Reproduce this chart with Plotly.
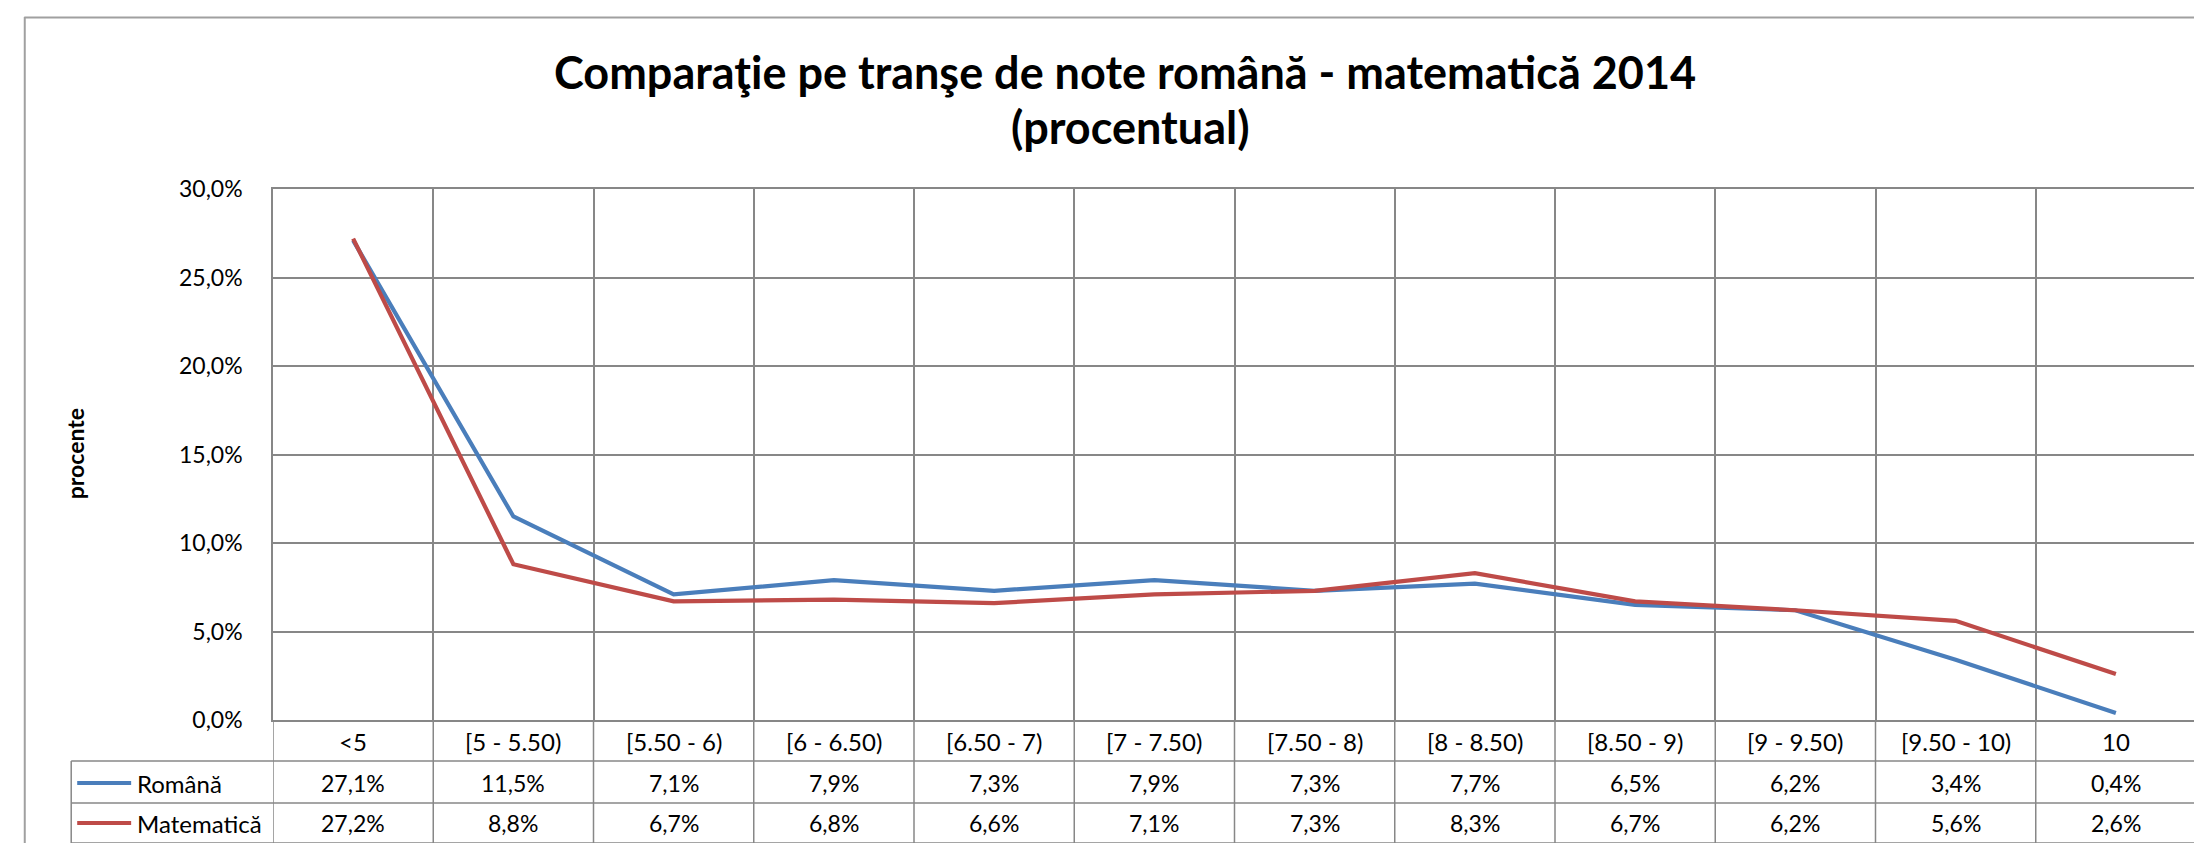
import plotly.graph_objects as go

categories = ["<5", "[5 - 5.50)", "[5.50 - 6)", "[6 - 6.50)", "[6.50 - 7)", "[7 - 7.50)",
              "[7.50 - 8)", "[8 - 8.50)", "[8.50 - 9)", "[9 - 9.50)", "[9.50 - 10)", "10"]
romana = [27.1, 11.5, 7.1, 7.9, 7.3, 7.9, 7.3, 7.7, 6.5, 6.2, 3.4, 0.4]
matematica = [27.2, 8.8, 6.7, 6.8, 6.6, 7.1, 7.3, 8.3, 6.7, 6.2, 5.6, 2.6]
series_names = ["Română", "Matematică"]
series_colors = ["#4A7EBB", "#BE4B48"]
y_ticks = [0, 0.05, 0.10, 0.15, 0.20, 0.25, 0.30]
title_line1 = "Comparaţie pe tranşe de note română - matematică 2014"
title_line2 = "(procentual)"
y_title = "procente"

FONT = "Lato"
GRID = "#878787"
W, H = 2202, 843
ML, MR, MT, MB = 265, 12, 181, 131

xs = list(range(len(categories)))
fig = go.Figure()
for name, vals, col in zip(series_names, [romana, matematica], series_colors):
    fig.add_trace(go.Scatter(x=xs, y=[v / 100 for v in vals], mode="lines", name=name,
                             line=dict(color=col, width=4.2), showlegend=False))

plot_h = H - MT - MB
plot_w = W - ML - MR
def py(pix):
    return (H - MB - pix) / plot_h
def px(pix):
    return (pix - ML) / plot_w

row_lines = [py(753), py(795), py(835)]
row_centers = [py(733), py(775), py(815)]
left_x = px(63)

shapes = []
for yl in row_lines:
    shapes.append(dict(type="line", xref="paper", yref="paper", x0=left_x, x1=1, y0=yl, y1=yl,
                       line=dict(color=GRID, width=1.5)))
shapes.append(dict(type="line", xref="paper", yref="paper", x0=left_x, x1=left_x,
                   y0=row_lines[0], y1=row_lines[-1], line=dict(color=GRID, width=1.5)))
for i in range(len(categories) + 1):
    shapes.append(dict(type="line", xref="x", yref="paper", x0=i - 0.5, x1=i - 0.5,
                       y0=0, y1=row_lines[-1], line=dict(color=GRID, width=1.5)))
# outer chart border
shapes.append(dict(type="line", xref="paper", yref="paper", x0=px(16), x1=px(W + 5),
                   y0=py(9.5), y1=py(9.5), line=dict(color="#A0A0A0", width=2)))
shapes.append(dict(type="line", xref="paper", yref="paper", x0=px(16.5), x1=px(16.5),
                   y0=py(9), y1=py(H + 5), line=dict(color="#A0A0A0", width=2)))

annotations = []
num_font = dict(family=FONT, size=23, color="#000000")
cat_font = dict(family=FONT, size=24, color="#000000")
lab_font = dict(family=FONT, size=24, color="#000000")
for i, c in enumerate(categories):
    annotations.append(dict(x=i, y=row_centers[0], xref="x", yref="paper", text=c,
                            showarrow=False, font=cat_font, xanchor="center", yanchor="middle"))
for r, (name, vals, col) in enumerate(zip(series_names, [romana, matematica], series_colors)):
    yc = row_centers[r + 1]
    for i, v in enumerate(vals):
        annotations.append(dict(x=i, y=yc, xref="x", yref="paper",
                                text=f"{v:.1f}%".replace(".", ","),
                                showarrow=False, font=num_font, xanchor="center", yanchor="middle"))
    shapes.append(dict(type="line", xref="paper", yref="paper", x0=px(69), x1=px(123),
                       y0=yc, y1=yc, line=dict(color=col, width=4.2)))
    annotations.append(dict(x=px(127), y=yc, xref="paper", yref="paper", text=name,
                            showarrow=False, font=lab_font, xanchor="left", yanchor="middle"))

annotations.append(dict(x=px(67), y=py(446), xref="paper", yref="paper", text=f"<b>{y_title}</b>",
                        textangle=-90, showarrow=False, font=dict(family=FONT, size=23, color="#000"),
                        xanchor="center", yanchor="middle"))
title_font = dict(family=FONT, size=45, color="#000")
annotations.append(dict(x=px(1118), y=py(64), xref="paper", yref="paper", text=f"<b>{title_line1}</b>",
                        showarrow=False, font=title_font, xanchor="center", yanchor="middle"))
annotations.append(dict(x=px(1123), y=py(119), xref="paper", yref="paper", text=f"<b>{title_line2}</b>",
                        showarrow=False, font=title_font, xanchor="center", yanchor="middle"))

fig.update_layout(
    width=W, height=H,
    margin=dict(l=ML, r=MR, t=MT, b=MB),
    paper_bgcolor="white", plot_bgcolor="white",
    separators=",.",
    xaxis=dict(range=[-0.5, len(categories) - 0.5], tickvals=[i - 0.5 for i in range(len(categories) + 1)],
               showticklabels=False, showgrid=True, gridcolor=GRID, gridwidth=1.5,
               showline=True, mirror=True, linecolor=GRID, linewidth=1.5, zeroline=False, ticks=""),
    yaxis=dict(range=[0, 0.30], tickvals=y_ticks, tickformat=".1%", showgrid=True,
               gridcolor=GRID, gridwidth=1.5, showline=True, mirror=True, linecolor=GRID,
               linewidth=1.5, zeroline=False, ticks="", ticklabelstandoff=24,
               tickfont=dict(family=FONT, size=23, color="#000")),
    shapes=shapes, annotations=annotations,
)
fig.write_html("out.html")
